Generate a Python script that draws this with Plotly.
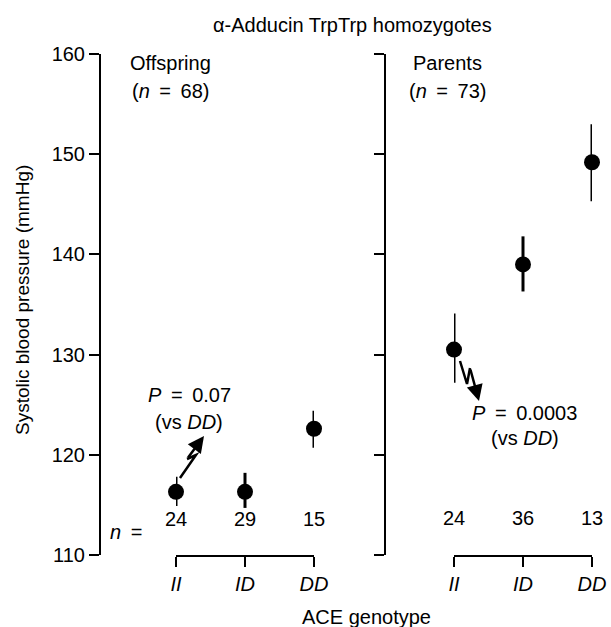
import plotly.graph_objects as go

# ---- data ----
genotypes = ["II", "ID", "DD"]
off_mean = [116.3, 116.3, 122.6]
off_upper = [117.8, 118.2, 124.4]
off_lower = [114.9, 114.7, 120.7]
off_n = [24, 29, 15]

par_mean = [130.5, 139.0, 149.2]
par_upper = [134.1, 141.8, 153.0]
par_lower = [127.2, 136.3, 145.3]
par_n = [24, 36, 13]

y_ticks = [110, 120, 130, 140, 150, 160]

W, H = 611, 627
TOP, BOT = 54, 555
FONT = "Liberation Sans, Arial, Helvetica, sans-serif"
FS = 20
TS = "\u2009"  # thin space for math-like spacing around '='


def px(x):
    return x / W


def py(y):
    return (BOT - y) / (BOT - TOP)


xs = list(range(len(genotypes)))

fig = go.Figure()
for mean, up, lo, xa in [(off_mean, off_upper, off_lower, "x"),
                         (par_mean, par_upper, par_lower, "x2")]:
    fig.add_trace(go.Scatter(
        x=xs, y=mean, xaxis=xa, yaxis="y", mode="markers",
        marker=dict(size=16, color="black"),
        error_y=dict(type="data", symmetric=False,
                     array=[u - m for u, m in zip(up, mean)],
                     arrayminus=[m - l for m, l in zip(mean, lo)],
                     width=0, thickness=3, color="black"),
        cliponaxis=False, showlegend=False, hoverinfo="skip"))
# empty trace so the second (right-panel) y axis is drawn
fig.add_trace(go.Scatter(x=[None], y=[None], xaxis="x2", yaxis="y2",
                         showlegend=False, hoverinfo="skip"))

xax = dict(range=[0, 2], tickvals=xs, ticktext=[f"<i>{g}</i>" for g in genotypes],
           showline=True, linecolor="black", linewidth=2, ticks="outside",
           ticklen=10, tickwidth=2, tickcolor="black", showgrid=False,
           zeroline=False, anchor="y", tickfont=dict(size=FS, color="black", family=FONT))
yax = dict(range=[110, 160], tickvals=y_ticks, showline=True, linecolor="black",
           linewidth=2, ticks="outside", ticklen=10, tickwidth=2, tickcolor="black",
           showgrid=False, zeroline=False, anchor="free",
           tickfont=dict(size=FS, color="black", family=FONT))

fig.update_layout(
    width=W, height=H,
    margin=dict(l=0, r=0, t=TOP, b=H - BOT, autoexpand=False),
    plot_bgcolor="white", paper_bgcolor="white",
    xaxis=dict(xax, domain=[px(176), px(314)]),
    xaxis2=dict(xax, domain=[px(454), px(592)]),
    yaxis=dict(yax, position=px(100), domain=[0, 1]),
    yaxis2=dict(yax, position=px(385), overlaying="y", showticklabels=False),
    font=dict(family=FONT, size=FS, color="black"),
)

ann = []


def txt(t, x, y, xanchor="center", size=FS, angle=0):
    ann.append(dict(text=t, x=px(x), y=py(y), xref="paper", yref="paper",
                    xanchor=xanchor, yanchor="middle", showarrow=False,
                    textangle=angle, font=dict(size=size, family=FONT, color="black")))


eq = f" {TS}={TS} "
txt("α-Adducin TrpTrp homozygotes", 352, 25)
txt("Offspring", 128, 63, "left")
txt(f"(<i>n</i>{eq}68)", 130, 91, "left")
txt("Parents", 411, 63, "left")
txt(f"(<i>n</i>{eq}73)", 407, 91, "left")
txt(f"<i>P</i>{eq}0.07", 189, 395)
txt("(vs <i>DD</i>)", 189, 422)
txt(f"<i>P</i>{eq}0.0003", 524, 413)
txt("(vs <i>DD</i>)", 525, 438)
txt(f"<i>n</i>{eq}", 131, 532)
txt("ACE genotype", 366, 617)
txt("Systolic blood pressure (mmHg)", 22, 300, size=19, angle=-90)

for i, n in enumerate(off_n):
    ann.append(dict(text=str(n), x=i, xref="x", y=py(532), yref="paper",
                    showarrow=False, font=dict(size=FS, family=FONT, color="black")))
for i, n in enumerate(par_n):
    ann.append(dict(text=str(n), x=i, xref="x2", y=py(531), yref="paper",
                    showarrow=False, font=dict(size=FS, family=FONT, color="black")))


def bolt(points, tip):
    path = "M " + " L ".join(f"{px(a)},{py(b)}" for a, b in points)
    fig.add_shape(type="path", path=path, xref="paper", yref="paper",
                  line=dict(color="black", width=2.5))
    last = points[-1]
    ann.append(dict(text="", x=px(tip[0]), y=py(tip[1]), xref="paper", yref="paper",
                    ax=last[0] - tip[0], ay=last[1] - tip[1], axref="pixel", ayref="pixel",
                    showarrow=True, arrowhead=2, arrowsize=1.3, arrowwidth=2.5,
                    arrowcolor="black"))


bolt([(180, 478), (196, 455), (187, 459)], (204, 436))
bolt([(460, 361), (467, 384), (470, 368)], (479, 401))

fig.update_layout(annotations=ann)
fig.write_html("out.html", config={"displayModeBar": False},
               post_script="document.body.style.margin='0px';")
